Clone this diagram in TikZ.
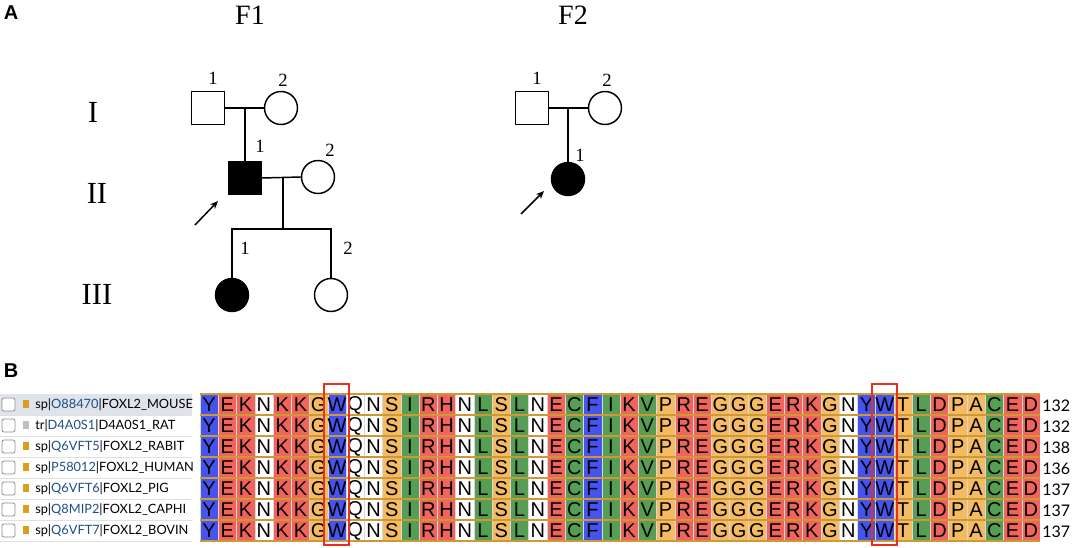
\documentclass[tikz,border=0pt]{standalone}
\usepackage{fontspec}
\setmainfont{Liberation Serif}
\newfontfamily\alnfont{Liberation Sans}
\newfontfamily\lblfont{Lato}
\usetikzlibrary{arrows.meta}

\definecolor{alnb}{RGB}{70,84,238}
\definecolor{alnr}{RGB}{240,100,92}
\definecolor{alno}{RGB}{245,187,98}
\definecolor{alng}{RGB}{86,158,84}
\definecolor{alnw}{RGB}{255,255,255}
\definecolor{alngold}{RGB}{206,152,52}
\definecolor{accblue}{RGB}{30,78,135}
\definecolor{hlred}{RGB}{232,48,30}
\definecolor{rowsel}{RGB}{222,228,234}
\definecolor{iconsp}{RGB}{214,160,30}

\tikzset{
  male/.style={draw, line width=1.1pt, minimum size=24.75pt, inner sep=0pt},
  female/.style={draw, circle, line width=1.1pt, minimum size=24.75pt, inner sep=0pt},
  affected/.style={fill=black},
  link/.style={line width=1.1pt},
  proband/.style={line width=1.1pt, -{Stealth[length=6pt,width=5pt]}},
  idnum/.style={font=\fontsize{14}{15}\selectfont},
  gen/.style={font=\fontsize{23}{24}\selectfont},
  famname/.style={font=\fontsize{21}{22}\selectfont},
  panel/.style={font=\alnfont\bfseries\fontsize{15}{16}\selectfont},
  residue/.style={font=\alnfont\fontsize{15}{15}\selectfont, inner sep=0pt},
  seqname/.style={font=\lblfont\fontsize{9.6}{10}\selectfont, anchor=west, inner sep=0pt},
  seqlen/.style={font=\lblfont\fontsize{12}{13}\selectfont, anchor=west, inner sep=0pt},
  hlbox/.style={draw=hlred, line width=1.5pt},
}

\begin{document}
\begin{tikzpicture}[x=0.75pt,y=-0.75pt]
\useasboundingbox (0,0) rectangle (1072,548);

% panel A
\node[panel] (lblA) at (11,13) {A};
\node[famname] (tF1) at (250,15) {F1};
\node[famname] (tF2) at (573,15) {F2};
\node[gen] (gI) at (93,112) {I};
\node[gen] (gII) at (97,193) {II};
\node[gen] (gIII) at (97,294) {III};

% family 1
\node[male] (f1a) at (208,108) {};
\node[female] (f1b) at (281,108) {};
\node[male,affected] (f1c) at (245,178) {};
\node[female] (f1d) at (318,177) {};
\node[female,affected] (f1e) at (232,295) {};
\node[female] (f1f) at (331,295) {};
\draw[link] (f1a.east) -- (f1b.west);
\coordinate (f1m) at (245,108);
\draw[link] (f1m) -- (f1c.north);
\draw[link] (f1c.east) -- (f1d.west);
\coordinate (f1n) at (283,177);
\coordinate (f1s) at (283,229);
\draw[link] (f1n) -- (f1s);
\draw[link] (f1e.north) |- (f1s) -| (f1f.north);
\node[idnum] (n11) at (213,78) {1};
\node[idnum] (n12) at (283,80) {2};
\node[idnum] (n21) at (260,146) {1};
\node[idnum] (n22) at (330,150) {2};
\node[idnum] (n31) at (245,248) {1};
\node[idnum] (n32) at (348,248) {2};
\coordinate (p1s) at (195,225);
\coordinate (p1e) at (218,201);
\draw[proband] (p1s) -- (p1e);

% family 2
\node[male] (f2a) at (532,108) {};
\node[female] (f2b) at (605,108) {};
\node[female,affected] (f2c) at (568,179) {};
\draw[link] (f2a.east) -- (f2b.west);
\coordinate (f2m) at (568,108);
\draw[link] (f2m) -- (f2c.north);
\node[idnum] (m11) at (537,78) {1};
\node[idnum] (m12) at (607,80) {2};
\node[idnum] (m21) at (580,155) {1};
\coordinate (p2s) at (521,214);
\coordinate (p2e) at (544,191);
\draw[proband] (p2s) -- (p2e);

% panel B
\node[panel] (lblB) at (11,371) {B};
\fill[rowsel] (0,394) rectangle (192,415);
\foreach \db/\acc/\nm/\len [count=\r] in {sp/O88470/FOXL2\_MOUSE/132, tr/D4A0S1/D4A0S1\_RAT/132,
    sp/Q6VFT5/FOXL2\_RABIT/138, sp/P58012/FOXL2\_HUMAN/136, sp/Q6VFT6/FOXL2\_PIG/137,
    sp/Q8MIP2/FOXL2\_CAPHI/137, sp/Q6VFT7/FOXL2\_BOVIN/137} {
  \pgfmathsetmacro\y{404.5+21*(\r-1)}
  \draw[black!45, line width=0.6pt, rounded corners=1.5pt, fill=white] (2,\y-6.5) rectangle (15,\y+6.5);
  \edef\dbname{\db}
  \def\sptest{sp}
  \ifx\dbname\sptest
    \fill[iconsp] (23,\y-4) rectangle (29,\y+4);
  \else
    \fill[black!25] (23,\y-4) rectangle (29,\y+4);
  \fi
  \node[seqname] (name\r) at (35,\y) {\db|\textcolor{accblue}{\acc}|\nm};
  \draw[black!12, line width=0.6pt] (0,\y+11) -- (192,\y+11);
  \node[seqlen] (len\r) at (1042,\y+1) {\len};
}

% alignment
\fill[alngold] (200,393) rectangle (1040,542);
\foreach \aa/\cc [count=\i] in {Y/b,E/r,K/r,N/w,K/r,K/r,G/o,W/b,Q/w,N/w,S/o,I/g,R/r,H/r,N/w,L/g,
    S/o,L/g,N/w,E/r,C/g,F/b,I/g,K/r,V/g,P/o,R/r,E/r,G/o,G/o,G/o,E/r,R/r,K/r,G/o,N/w,Y/b,W/b,
    T/o,L/g,D/r,P/o,A/o,C/g,E/r,D/r} {
  \foreach \r in {1,...,7} {
    \pgfmathsetmacro\y{404.5+21*(\r-1)}
    \pgfmathsetmacro\xa{200+(\i-1)*18.26}
    \fill[aln\cc] (\xa,\y-9.5) rectangle ++(18.26,19);
    \draw[white!85!black, line width=0.3pt] (\xa,\y-9.5) -- ++(0,19);
    \node[residue] (c\r-\i) at (\xa+9.13,\y+0.5) {\aa};
  }
}
\draw[hlbox] (324,384) rectangle (349,545);
\draw[hlbox] (872,384) rectangle (897,545);

\end{tikzpicture}
\end{document}
